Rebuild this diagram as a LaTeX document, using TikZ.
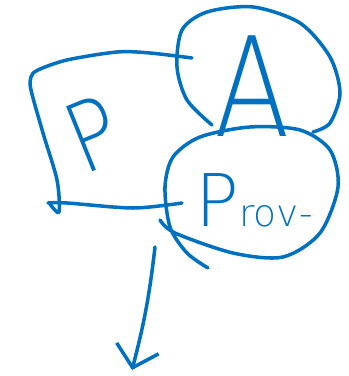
\documentclass[tikz,border=0pt]{standalone}
\usepackage{fontspec}
\newfontfamily\sketchfont{DejaVu Sans ExtraLight}
\usetikzlibrary{arrows.meta}
\definecolor{inkblue}{RGB}{0,112,192}

\begin{document}
\begin{tikzpicture}[
  x=0.03cm, y=-0.03cm,
  ink/.style={draw=inkblue, line width=3pt, line cap=round, line join=round},
  letter/.style={text=inkblue, inner sep=0pt},
  arrow/.style={ink, -{Straight Barb[length=6mm, width=13mm]}},
]
\useasboundingbox (0,0) rectangle (349,376);

% letters
\node[letter, rotate=22, xscale=0.85, font=\sketchfont\fontsize{82}{82}\selectfont] (p) at (93,134) {P};
\node[letter, xscale=0.8, font=\sketchfont\fontsize{118}{118}\selectfont] (a) at (252,86) {A};
\node[letter, font=\sketchfont] (prov) at (254,200)
  {{\fontsize{62}{62}\selectfont P}{\fontsize{32}{32}\selectfont rov-}};

% rough square
\draw[ink] plot[smooth] coordinates {(192,58) (150,53) (117,52) (67,60) (38,70) (31,77)
  (31,90) (43,133) (57,180) (59,212) (50,204)};
\draw[ink] plot[smooth] coordinates {(48,203) (67,203) (133,208) (182,203)};

% bubble round A
\draw[ink] plot[smooth] coordinates {(212,125) (187,100) (177,67) (182,30) (207,12)
  (253,7) (300,23) (330,57) (340,93) (330,123) (313,132)};

% bubble round Prov-
\draw[ink] plot[smooth] coordinates {(160,220) (175,233) (233,253) (283,257) (320,233)
  (338,187) (330,150) (300,130) (250,127) (200,137) (173,157) (165,187) (170,227)
  (187,253) (208,268)};

% arrow out
\coordinate (tail) at (155,247);
\coordinate (out) at (132,370);
\draw[arrow] (tail) to[bend left=4] (out);
\end{tikzpicture}
\end{document}
